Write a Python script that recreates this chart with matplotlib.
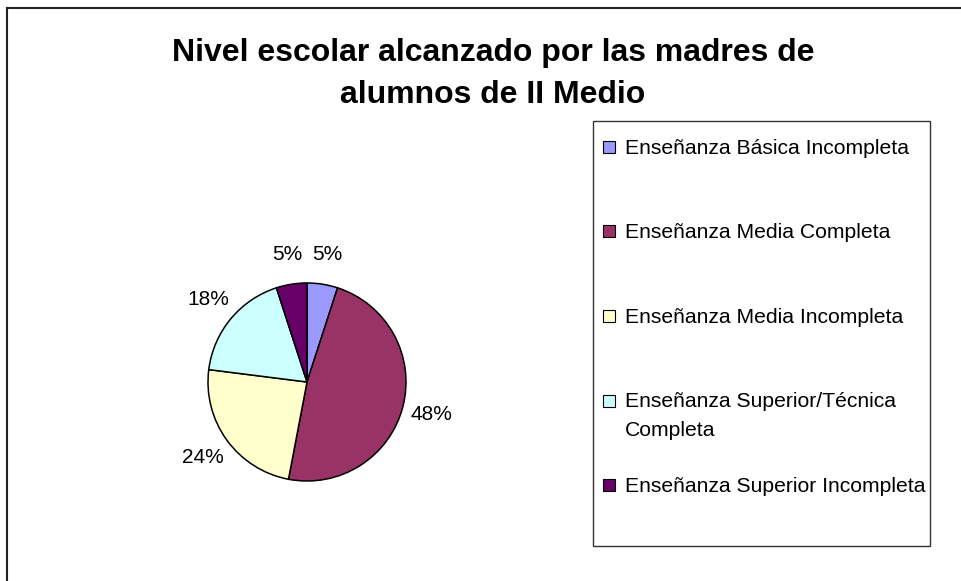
import matplotlib
matplotlib.use("Agg")
import matplotlib.pyplot as plt
from matplotlib.patches import Rectangle

plt.rcParams['font.family'] = ['Liberation Sans', 'DejaVu Sans']

W, H = 962, 581

# ----------------------------
# Data
# ----------------------------
categories = [
    "Enseñanza Básica Incompleta",
    "Enseñanza Media Completa",
    "Enseñanza Media Incompleta",
    "Enseñanza Superior/Técnica\nCompleta",
    "Enseñanza Superior Incompleta",
]
percentages = [5, 48, 24, 18, 5]
colors = ["#9999FF", "#993366", "#FFFFCC", "#CCFFFF", "#660066"]
title = "Nivel escolar alcanzado por las madres de\nalumnos de II Medio"


def fx(x):
    return x / W


def fy(y):
    return 1 - y / H


fig = plt.figure(figsize=(W / 100, H / 100), dpi=100)

# chart area border (cut off at right/bottom like the original)
fig.patches.append(Rectangle((fx(7), fy(600)), fx(1000), (600 - 8) / H,
                             transform=fig.transFigure, fill=False,
                             edgecolor='#222222', lw=1.5))

# multi-line text: baseline anchor is the last line
fig.text(fx(493), fy(103), title, ha='center', va='baseline',
         fontsize=23, fontweight='bold', linespacing=1.5)

# pie
ax = fig.add_axes([fx(167), fy(522), 280 / W, 280 / H])
wedges, texts, autotexts = ax.pie(
    percentages, colors=colors, startangle=90, counterclock=False,
    autopct='%1.0f%%', pctdistance=1.3,
    wedgeprops=dict(edgecolor='black', linewidth=1.1),
    textprops=dict(fontsize=15, color='black'))
ax.set_xlim(-1.414, 1.414)
ax.set_ylim(-1.414, 1.414)

# legend (Excel style: evenly spaced rows, wrapped text grows downward)
fig.patches.append(Rectangle((fx(593), fy(546)), (930 - 593) / W, (546 - 121) / H,
                             transform=fig.transFigure, fill=False,
                             edgecolor='#333333', lw=1))
row_y0, row_step, line_gap = 147, 84.5, 28
for i, (w, lab) in enumerate(zip(wedges, categories)):
    yc = row_y0 + i * row_step
    n_extra = lab.count("\n")
    fig.patches.append(Rectangle((fx(603), fy(yc + 6)), 12 / W, 12 / H,
                                 transform=fig.transFigure,
                                 facecolor=w.get_facecolor(), edgecolor='black', lw=0.8))
    fig.text(fx(625), fy(yc + 7 + n_extra * line_gap), lab, fontsize=15.2,
             ha='left', va='baseline', linespacing=1.65)

fig.savefig("out.png", dpi=100)
